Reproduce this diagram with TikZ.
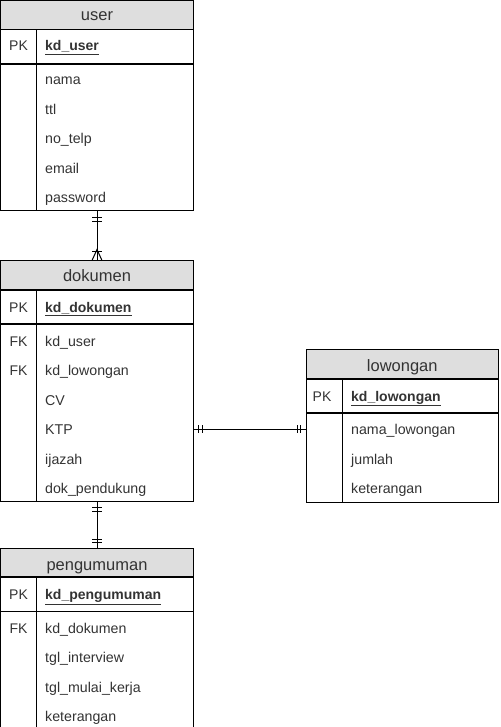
\documentclass[tikz,border=0pt]{standalone}
\usepackage{fontspec}
\setmainfont{Liberation Sans}
\definecolor{hdrfill}{HTML}{DEDEDE}
\definecolor{txtgray}{HTML}{333333}
\begin{document}
\begin{tikzpicture}[x=1pt, y=-1pt,
    tbl/.style={draw, line width=1pt, inner sep=0, outer sep=0, anchor=north west},
    sepline/.style={line width=1.2pt},
    rel/.style={line width=1pt},
    hdr/.style={inner sep=0, anchor=base, text=txtgray, font=\fontsize{16.5}{18}\selectfont},
    keylbl/.style={inner sep=0, anchor=base, text=txtgray, font=\fontsize{14}{16}\selectfont},
    fld/.style={inner sep=0, anchor=base west, text=txtgray, font=\fontsize{14.2}{16}\selectfont},
    pkfld/.style={fld, font=\bfseries\fontsize{14}{16}\selectfont}]
    \useasboundingbox (0,0) rectangle (500,727);
    \clip (0,0) rectangle (500,727);

    % user
    \fill[hdrfill] (0.5,0.5) rectangle (193.5,29.5);
    \node[tbl, minimum width=193pt, minimum height=210.5pt] (user) at (0.5,0.5) {};
    \draw[sepline] (0.5,29.5) -- (193.5,29.5);
    \draw[sepline] (0.5,64) -- (193.5,64);
    \draw[rel] (36,29.5) -- (36,211);
    \node[hdr] (u-title) at (97,21) {user};
    \node[keylbl] (u-pk) at (18.5,51) {PK};
    \node[pkfld] (u-kd) at (45,51) {\underline{kd\_user}};
    \node[fld] (u-nama) at (45,85) {nama};
    \node[fld] (u-ttl) at (45,114.5) {ttl};
    \node[fld] (u-telp) at (45,144) {no\_telp};
    \node[fld] (u-email) at (45,173.5) {email};
    \node[fld] (u-pass) at (45,203) {password};

    % dokumen
    \fill[hdrfill] (0.5,260.5) rectangle (193.5,290);
    \node[tbl, minimum width=193pt, minimum height=240.5pt] (dokumen) at (0.5,260.5) {};
    \draw[sepline] (0.5,290) -- (193.5,290);
    \draw[sepline] (0.5,324) -- (193.5,324);
    \draw[rel] (36,290) -- (36,501);
    \node[hdr] (d-title) at (97,281) {dokumen};
    \node[keylbl] (d-pk) at (18.5,312) {PK};
    \node[pkfld] (d-kd) at (45,312) {\underline{kd\_dokumen}};
    \node[keylbl] (d-fk1) at (18.5,346) {FK};
    \node[fld] (d-user) at (45,346) {kd\_user};
    \node[keylbl] (d-fk2) at (18.5,375.5) {FK};
    \node[fld] (d-low) at (45,375.5) {kd\_lowongan};
    \node[fld] (d-cv) at (45,405) {CV};
    \node[fld] (d-ktp) at (45,434.5) {KTP};
    \node[fld] (d-ijazah) at (45,464) {ijazah};
    \node[fld] (d-dok) at (45,493.5) {dok\_pendukung};

    % lowongan
    \fill[hdrfill] (306,349.5) rectangle (498.5,379);
    \node[tbl, minimum width=192.5pt, minimum height=152.5pt] (lowongan) at (306,349.5) {};
    \draw[sepline] (306,379) -- (498.5,379);
    \draw[sepline] (306,413) -- (498.5,413);
    \draw[rel] (342,379) -- (342,502);
    \node[hdr] (l-title) at (402.25,371) {lowongan};
    \node[keylbl] (l-pk) at (322,401) {PK};
    \node[pkfld] (l-kd) at (351,401) {\underline{kd\_lowongan}};
    \node[fld] (l-nama) at (351,434.5) {nama\_lowongan};
    \node[fld] (l-jumlah) at (351,464) {jumlah};
    \node[fld] (l-ket) at (351,493.5) {keterangan};

    % pengumuman
    \fill[hdrfill] (0.5,548.5) rectangle (193.5,577);
    \node[tbl, minimum width=193pt, minimum height=191.5pt] (pengumuman) at (0.5,548.5) {};
    \draw[sepline] (0.5,577) -- (193.5,577);
    \draw[sepline] (0.5,611.5) -- (193.5,611.5);
    \draw[rel] (36,577) -- (36,740);
    \node[hdr] (p-title) at (97,570) {pengumuman};
    \node[keylbl] (p-pk) at (18.5,599.5) {PK};
    \node[pkfld] (p-kd) at (45,599.5) {\underline{kd\_pengumuman}};
    \node[keylbl] (p-fk) at (18.5,633) {FK};
    \node[fld] (p-dok) at (45,633) {kd\_dokumen};
    \node[fld] (p-tgl1) at (45,662.5) {tgl\_interview};
    \node[fld] (p-tgl2) at (45,692) {tgl\_mulai\_kerja};
    \node[fld] (p-ket) at (45,721.5) {keterangan};

    % relations
    \coordinate (ktp-end) at (193.5,429);
    \coordinate (low-end) at (306,429);
    \draw[rel] (user.south) -- (dokumen.north);
    \draw[rel] (dokumen.south) -- (pengumuman.north);
    \draw[rel] (ktp-end) -- (low-end);

    % markers
    \draw[rel] (92,217.5) -- (102,217.5);
    \draw[rel] (92,221) -- (102,221);
    \draw[rel] (92,251.5) -- (102,251.5);
    \draw[rel] (92,260.5) -- (97,249.5) -- (102,260.5);

    \draw[rel] (92,507.5) -- (102,507.5);
    \draw[rel] (92,511) -- (102,511);
    \draw[rel] (92,539) -- (102,539);
    \draw[rel] (92,542.5) -- (102,542.5);

    \draw[rel] (198.5,425) -- (198.5,433);
    \draw[rel] (202,425) -- (202,433);
    \draw[rel] (297,425) -- (297,433);
    \draw[rel] (300.5,425) -- (300.5,433);
\end{tikzpicture}
\end{document}
